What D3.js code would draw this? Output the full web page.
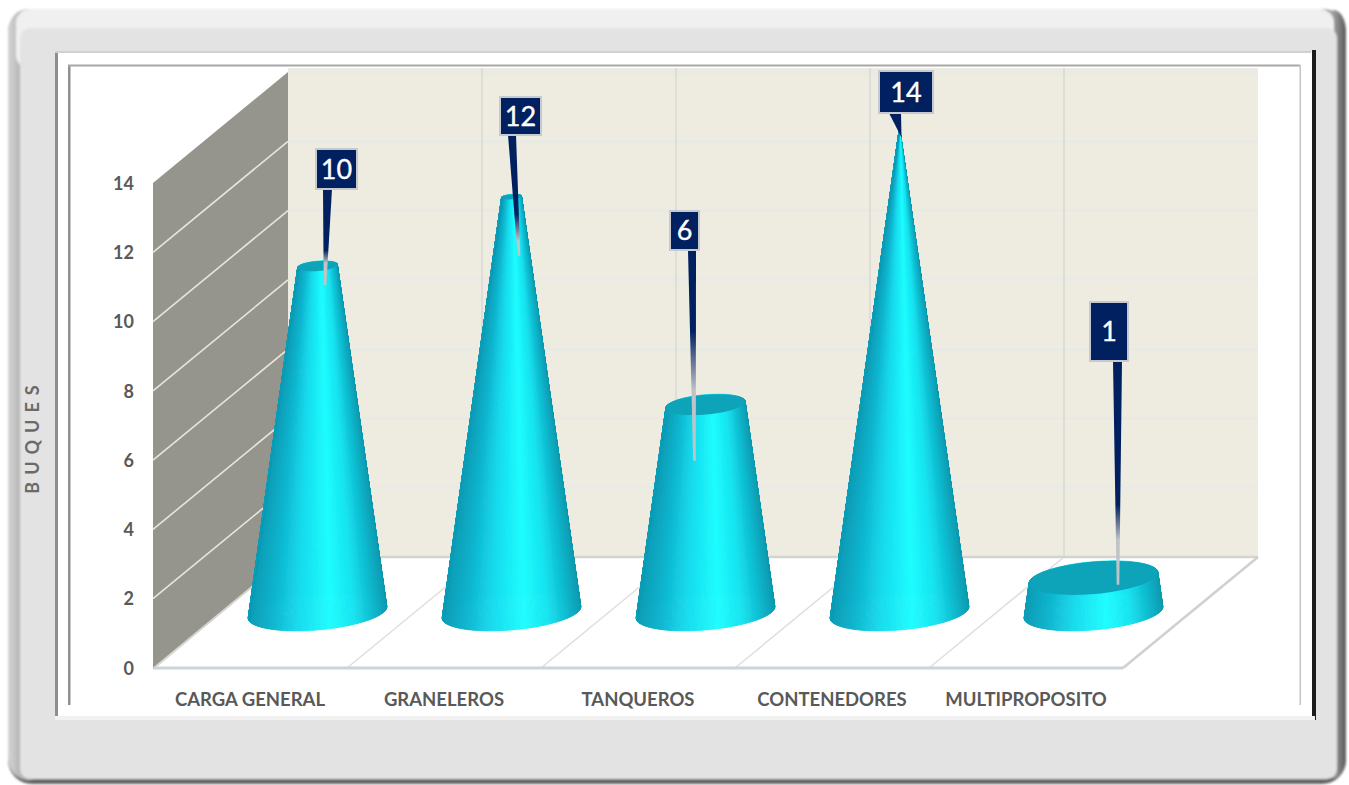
<!DOCTYPE html>
<html><head><meta charset="utf-8">
<script src="https://cdn.jsdelivr.net/npm/d3@7/dist/d3.min.js"></script>
<style>html,body{margin:0;padding:0;background:#fff}svg{display:block}</style>
</head><body><svg id="c" width="1349" height="785"></svg>
<script>
const categories = ["CARGA GENERAL","GRANELEROS","TANQUEROS","CONTENEDORES","MULTIPROPOSITO"];
const values = [10,12,6,14,1];
const yTicks = [0,2,4,6,8,10,12,14];
const axisTitle = "BUQUES";

// layout (not data)
const plot = {x0:153,x1:1123,y0:668,y1:183,dx:135,dy:111,wallTop:68};
const cone = {r:69.5,k:.25,tilt:-5*Math.PI/180,steps:360};
// callout box [left,top,right,bottom], stem [left,right], tip offset from the cone's top centre,
// fade = where the stem turns from navy to grey, measured back from the tip
const calloutLayout = [
 {box:[316,149,357,189],stem:[323,332],tip:[7.5,19],fade:[35,22]},
 {box:[500,97,541,135],stem:[508,516],tip:[7.5,59],fade:[42,15]},
 {box:[670,211,699,250],stem:[688,696],tip:[-11,56],fade:[130,70]},
 {box:[879,71,933,113],stem:[889,901],tip:[2,10],fade:null},
 {box:[1090,302,1128,361],stem:[1113,1122],tip:[24.5,7],fade:[80,45]}
];

const svg = d3.select("#c");
const defs = svg.append("defs");
const y = d3.scaleLinear().domain([0,14]).range([plot.y0,plot.y1]);
const x = d3.scaleBand().domain(categories).range([plot.x0,plot.x1]);
const poly = d3.line();

// ---------- frame
defs.append("filter").attr("id","soft").attr("x","-2%").attr("y","-2%").attr("width","104%").attr("height","104%")
  .append("feGaussianBlur").attr("stdDeviation",1);
defs.append("filter").attr("id","cs").attr("x","-5%").attr("y","-5%").attr("width","110%").attr("height","110%")
  .append("feGaussianBlur").attr("stdDeviation",.45);
const rg = defs.append("linearGradient").attr("id","rb");
[[0,"#c2c2c2"],[.5,"#9c9c9c"],[1,"#5a5a5a"]].forEach(s=>rg.append("stop").attr("offset",s[0]).attr("stop-color",s[1]));
const lg = defs.append("linearGradient").attr("id","lb");
[[0,"#d4d4d4"],[.15,"#c6c6c6"],[.3,"#b4b4b4"],[1,"#b4b4b4"]].forEach(s=>lg.append("stop").attr("offset",s[0]).attr("stop-color",s[1]));
const frame = svg.append("g").attr("filter","url(#soft)");
frame.append("rect").attr("x",8).attr("y",9).attr("width",1338).attr("height",775).attr("rx",24).attr("fill","#666");
frame.append("rect").attr("x",1322).attr("y",10).attr("width",24).attr("height",768).attr("rx",22).attr("fill","url(#rb)");
frame.append("rect").attr("x",8).attr("y",9).attr("width",40).attr("height",771).attr("rx",22).attr("fill","url(#lb)");
frame.append("rect").attr("x",16).attr("y",9).attr("width",1318).attr("height",60).attr("rx",14).attr("fill","#f0f0f0");
frame.append("rect").attr("x",20).attr("y",28).attr("width",1317).attr("height",751).attr("rx",10).attr("fill","#e3e3e3");
// inset panel
svg.append("rect").attr("x",55).attr("y",52).attr("width",1260).attr("height",666).attr("fill","#fff");
svg.append("rect").attr("x",55).attr("y",51).attr("width",3).attr("height",669).attr("fill","#8e8e8e");
svg.append("rect").attr("x",55).attr("y",51).attr("width",1256).attr("height",2).attr("fill","#d0d0d0");
svg.append("rect").attr("x",1312).attr("y",50).attr("width",4).attr("height",670).attr("fill","#1c1c1c");
svg.append("rect").attr("x",55).attr("y",716).attr("width",1260).attr("height",4).attr("fill","#f1f1f1");
svg.append("rect").attr("x",68).attr("y",65).attr("width",2.5).attr("height",640).attr("fill","#8f8f8f");
svg.append("rect").attr("x",68).attr("y",64.5).attr("width",1232).attr("height",2).attr("fill","#a8a8a8");
svg.append("rect").attr("x",1299.5).attr("y",65).attr("width",1.5).attr("height",640).attr("fill","#c4c4c4");

// ---------- 3D box
const g = svg.append("g");
const bx0=plot.x0+plot.dx, bx1=plot.x1+plot.dx;
g.append("rect").attr("x",bx0).attr("y",plot.wallTop).attr("width",bx1-bx0).attr("height",y(0)-plot.dy-plot.wallTop).attr("fill","#eeebe0");
g.selectAll(".hb").data(yTicks.slice(1)).join("line").attr("x1",bx0).attr("x2",bx1)
  .attr("y1",d=>y(d)-plot.dy).attr("y2",d=>y(d)-plot.dy).attr("stroke","#e7eae5").attr("stroke-width",2.5);
g.append("path").attr("d",poly([[plot.x0,plot.y0],[plot.x1,plot.y0],[bx1,plot.y0-plot.dy],[bx0,plot.y0-plot.dy]])+"Z").attr("fill","#fff");
const seps = categories.slice(1).map(c=>x(c));
g.selectAll(".vb").data(seps).join("line").attr("x1",d=>d+plot.dx).attr("x2",d=>d+plot.dx)
  .attr("y1",plot.wallTop).attr("y2",plot.y0-plot.dy).attr("stroke","#d9d9d5").attr("stroke-width",1.5);
g.selectAll(".fl").data(seps).join("line").attr("x1",d=>d).attr("y1",plot.y0)
  .attr("x2",d=>d+plot.dx).attr("y2",plot.y0-plot.dy).attr("stroke","#dedede").attr("stroke-width",1.5);
g.append("line").attr("x1",bx0).attr("x2",bx1).attr("y1",plot.y0-plot.dy).attr("y2",plot.y0-plot.dy).attr("stroke","#d4d4ce").attr("stroke-width",2.5);
g.append("line").attr("x1",plot.x1).attr("y1",plot.y0).attr("x2",bx1).attr("y2",plot.y0-plot.dy).attr("stroke","#d0d0d0").attr("stroke-width",2.5);
g.append("line").attr("x1",plot.x0).attr("x2",plot.x1).attr("y1",plot.y0).attr("y2",plot.y0).attr("stroke","#c8d6d9").attr("stroke-width",3);
g.append("path").attr("d",poly([[plot.x0,y(14)],[bx0,y(14)-plot.dy],[bx0,y(0)-plot.dy],[plot.x0,y(0)]])+"Z").attr("fill","#96958d");
g.append("line").attr("x1",plot.x0+1).attr("y1",y(0)).attr("x2",bx0).attr("y2",y(0)-plot.dy).attr("stroke","#d4d4d0").attr("stroke-width",2);
g.selectAll(".hw").data(yTicks.slice(1,-1)).join("line").attr("x1",plot.x0).attr("y1",d=>y(d))
  .attr("x2",bx0).attr("y2",d=>y(d)-plot.dy).attr("stroke","#e6e6df").attr("stroke-width",1.6);

// ---------- axes
const fontF = "Lato, 'Open Sans', sans-serif";
const ya = svg.append("g").attr("transform",`translate(${plot.x0-19},0.5)`)
  .call(d3.axisLeft(y).tickValues(yTicks).tickSize(0).tickPadding(0));
ya.select(".domain").remove();
ya.selectAll("text").attr("font-family",fontF).attr("font-weight",700).attr("font-size",18).attr("fill","#595959");
const xa = svg.append("g").attr("transform",`translate(0,${plot.y0+18.5})`)
  .call(d3.axisBottom(x).tickSize(0).tickPadding(0));
xa.select(".domain").remove();
xa.selectAll("text").attr("dy","1.05em").attr("font-family",fontF).attr("font-weight",700).attr("font-size",18.5).attr("fill","#595959");
svg.append("text").attr("transform","translate(39,436) rotate(-90)").attr("text-anchor","middle")
  .attr("font-family",fontF).attr("font-weight",700).attr("font-size",18).attr("letter-spacing",7).attr("fill","#6a6a6a").text(axisTitle);

// ---------- cones
const shade = d3.scaleLinear().domain([0,.15,.35,.58,.75,.9,1])
  .range(["#0a9db7","#11b4cd","#17dcee","#20fdff","#17e4f0","#10b8cd","#0a9ab0"]);
const ptAt=(cx,cy,r,t)=>{
  const a=r*Math.cos(t), b=r*cone.k*Math.sin(t), c=Math.cos(cone.tilt), s=Math.sin(cone.tilt);
  return [cx+a*c-b*s, cy+a*s+b*c];
};
const ellipse=(cx,cy,r)=>poly(d3.range(73).map(i=>ptAt(cx,cy,r,i/72*2*Math.PI)))+"Z";
const cz = svg.append("g");
const h = y(0)-y(1);
categories.forEach((cat,i)=>{
  const v=values[i];
  const cx=x(cat)+x.bandwidth()/2+plot.dx/2, cy=plot.y0-plot.dy/2;
  const topY=cy-h*v, rTop=cone.r*(1-v/14);
  const gg=cz.append("g").attr("filter","url(#cs)");
  const ts=d3.range(cone.steps).map(j=>[j/cone.steps*2*Math.PI,(j+1)/cone.steps*2*Math.PI]);
  const back=ts.filter(d=>Math.sin((d[0]+d[1])/2)<0), front=ts.filter(d=>Math.sin((d[0]+d[1])/2)>=0);
  [...back,...front].forEach(d=>{
    const col=shade((1+Math.cos((d[0]+d[1])/2))/2);
    gg.append("path").attr("d",poly([ptAt(cx,cy,cone.r,d[0]),ptAt(cx,cy,cone.r,d[1]),ptAt(cx,topY,rTop,d[1]),ptAt(cx,topY,rTop,d[0])])+"Z")
      .attr("fill",col).attr("stroke",col).attr("stroke-width",.8);
  });
  if(rTop>0) gg.append("path").attr("d",ellipse(cx,topY,rTop)).attr("fill","#0fa3b9");
});

// ---------- callouts
const co = svg.append("g");
values.forEach((v,i)=>{
  const L=calloutLayout[i], cx=x(categories[i])+x.bandwidth()/2+plot.dx/2, cy=plot.y0-plot.dy/2;
  const tip=[cx+L.tip[0], cy-h*v+L.tip[1]];
  const id="st"+i;
  let fill="#00205f";
  if(L.fade){
    const gr=defs.append("linearGradient").attr("id",id).attr("gradientUnits","userSpaceOnUse")
      .attr("x1",0).attr("x2",0).attr("y1",tip[1]-L.fade[0]).attr("y2",tip[1]-L.fade[1]);
    [[0,"#00205f"],[1,"#c0c3c8"]].forEach(s=>gr.append("stop").attr("offset",s[0]).attr("stop-color",s[1]));
    fill=`url(#${id})`;
  }
  const w=L.fade?1.3:0;
  co.append("path").attr("d",poly([[L.stem[0],L.box[3]],[L.stem[1],L.box[3]],[tip[0]+w,tip[1]],[tip[0]-w,tip[1]]])+"Z").attr("fill",fill);
  co.append("rect").attr("x",L.box[0]).attr("y",L.box[1]).attr("width",L.box[2]-L.box[0]).attr("height",L.box[3]-L.box[1])
    .attr("fill","#00205f").attr("stroke","#c6cad0").attr("stroke-width",2);
  co.append("text").attr("x",(L.box[0]+L.box[2])/2).attr("y",(L.box[1]+L.box[3])/2-1).attr("text-anchor","middle").attr("dominant-baseline","central")
    .attr("font-family",fontF).attr("font-size",27).attr("fill","#fff").attr("stroke","#fff").attr("stroke-width",.35).text(v);
});
</script></body></html>
